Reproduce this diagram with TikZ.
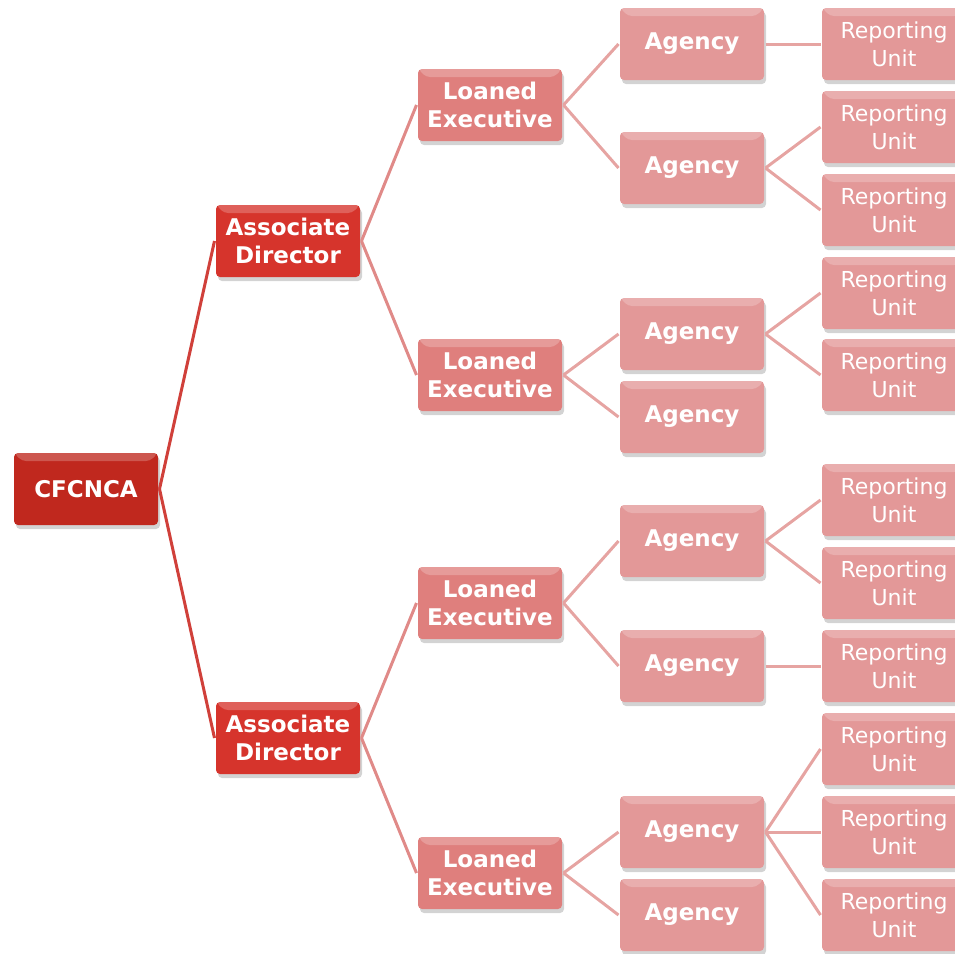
\documentclass[tikz,border=0pt]{standalone}
\usepackage{fontspec}
\setmainfont{DejaVu Sans}
\usetikzlibrary{shadows}
\definecolor{topred}{HTML}{C0281E}
\definecolor{adred}{HTML}{D6342C}
\definecolor{lepink}{HTML}{DF7F7D}
\definecolor{agpink}{HTML}{E39898}
\definecolor{linered}{HTML}{D0403A}
\definecolor{linemid}{HTML}{E08A88}
\definecolor{linelight}{HTML}{E6A4A2}

\tikzset{
  box/.style={rectangle,rounded corners=4pt,minimum width=144pt,minimum height=72pt,
    inner sep=0pt,align=center,text=white,
    drop shadow={opacity=0.35,shadow xshift=2pt,shadow yshift=-4pt},
    path picture={\fill[white,opacity=0.22]
      (path picture bounding box.north west) -- (path picture bounding box.north east)
      -- ([xshift=-8pt,yshift=-8pt]path picture bounding box.north east)
      -- ([xshift=8pt,yshift=-8pt]path picture bounding box.north west) -- cycle;}},
  bbox/.style={box,font=\fontsize{23}{28}\selectfont\bfseries},
  rbox/.style={box,fill=agpink,font=\fontsize{22}{28}\selectfont}
}

\begin{document}
\begin{tikzpicture}
  [x=1pt,y=-1pt,line width=3pt]
  \useasboundingbox (0,0) rectangle (955,953);
  \clip (0,0) rectangle (955,953);
  \node[bbox,fill=topred] (c) at (86,489) {CFCNCA};
  \node[bbox,fill=adred] (ad1) at (288,241) {Associate\\Director};
  \node[bbox,fill=adred] (ad2) at (288,738) {Associate\\Director};

  \node[bbox,fill=lepink] (le1) at (490,105) {Loaned\\Executive};
  \node[bbox,fill=lepink] (le2) at (490,375) {Loaned\\Executive};
  \node[bbox,fill=lepink] (le3) at (490,603) {Loaned\\Executive};
  \node[bbox,fill=lepink] (le4) at (490,873) {Loaned\\Executive};

  \foreach \n/\y in {1/44,2/168,3/334,4/417,5/541,6/666,7/832,8/915}
    \node[bbox,fill=agpink] (ag\n) at (692,\y) {Agency};

  \foreach \n/\y in {1/44,2/127,3/210,4/293,5/375,6/500,7/583,8/666,9/749,10/832,11/915}
    \node[rbox] (ru\n) at (894,\y) {Reporting\\Unit};

  \foreach \from/\to in {c/ad1,c/ad2}
    \draw[linered] (\from.east) -- (\to.west);
  \foreach \from/\to in {ad1/le1,ad1/le2,ad2/le3,ad2/le4}
    \draw[linemid] (\from.east) -- (\to.west);
  \foreach \from/\to in {le1/ag1,le1/ag2,le2/ag3,le2/ag4,le3/ag5,le3/ag6,le4/ag7,le4/ag8,
      ag1/ru1,ag2/ru2,ag2/ru3,ag3/ru4,ag3/ru5,ag5/ru6,ag5/ru7,ag6/ru8,ag7/ru9,ag7/ru10,ag7/ru11}
    \draw[linelight] (\from.east) -- (\to.west);

\end{tikzpicture}
\end{document}
